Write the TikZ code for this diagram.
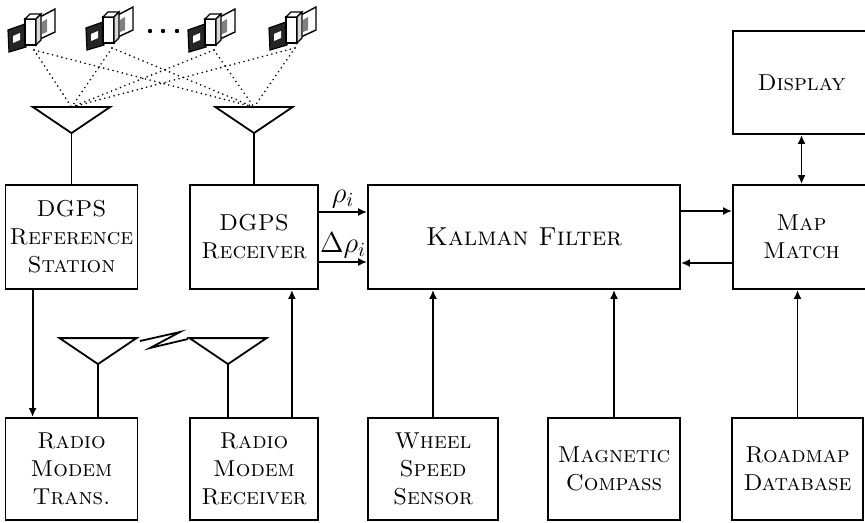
\documentclass[tikz,border=0pt]{standalone}
\usetikzlibrary{arrows.meta,positioning}

\tikzset{
  block/.style={draw, line width=0.9pt, minimum width=66pt, minimum height=52pt,
    align=center, inner sep=1pt, font=\fontsize{11.5}{14}\selectfont\scshape},
  wire/.style={line width=0.9pt},
  link/.style={wire, -{Latex[length=4.5pt,width=4pt]}},
  beam/.style={line width=0.9pt, dash pattern=on 0pt off 2.4pt, line cap=round},
  % receiving antenna, origin at the tip
  antenna/.pic={
    \draw[wire] (-38.5,-26) -- (38.5,-26) -- (0,0) -- cycle;
    \coordinate (-tip) at (0,0);
    \coordinate (-top) at (0,-26);
  },
  % satellite with two solar panels
  sat/.pic={
    \draw[line width=0.6pt, fill=black!85] (-24,1) -- (-7,-5) -- (-6,18) -- (-23,23) -- cycle;
    \fill[white] (-19,7) -- (-12,4) -- (-12,11) -- (-19,14) -- cycle;
    \draw[line width=0.7pt, fill=white] (8,-12) -- (23,-20) -- (23,3) -- (8,10) -- cycle;
    \fill[black!50] (10,-7) -- (15,-10) -- (15,3) -- (10,5) -- cycle;
    \draw[line width=0.7pt, fill=white] (-7,-10) -- (4,-10) -- (4,16) -- (-7,16) -- cycle;
    \draw[line width=0.7pt, fill=white] (-7,-10) -- (-2,-15) -- (9,-15) -- (4,-10) -- cycle;
    \draw[line width=0.7pt, fill=black!15] (4,-10) -- (9,-15) -- (9,11) -- (4,16) -- cycle;
    \coordinate (-foot) at (2,21);
  }
}

\begin{document}
\begin{tikzpicture}[x=0.5pt,y=-0.5pt]
\useasboundingbox (0,0) rectangle (865,523);

% Satellites
\pic (s1) at (32,29) {sat};
\pic (s2) at (110,27) {sat};
\pic (s3) at (212,29) {sat};
\pic (s4) at (293,27) {sat};
\foreach \x in {150,163,177}
  \fill (\x,31) circle (1.1pt);

% Blocks
\node[block] (ref) at (71.5,237) {DGPS\\Reference\\Station};
\node[block, minimum width=64pt] (rx) at (254,237) {DGPS\\Receiver};
\node[block, minimum width=156pt, font=\fontsize{13}{15}\selectfont\scshape] (kalman) at (524,237) {Kalman Filter};
\node[block, minimum width=68.5pt] (map) at (801.5,237) {Map\\Match};
\node[block, minimum width=68.5pt, minimum height=51.5pt] (display) at (801.5,82.5) {Display};

\node[block, minimum height=51pt] (trans) at (71.5,469) {Radio\\Modem\\Trans.};
\node[block, minimum width=64pt, minimum height=51pt] (rmrx) at (254,469) {Radio\\Modem\\Receiver};
\node[block, minimum width=65pt, minimum height=51pt] (wheel) at (433,469) {Wheel\\Speed\\Sensor};
\node[block, minimum width=66pt, minimum height=51pt] (compass) at (614,469) {Magnetic\\Compass};
\node[block, minimum width=65.5pt, minimum height=51pt] (roadmap) at (797.5,469) {Roadmap\\Database};

% Antennas
\pic (ant1) at ([yshift=25.5pt]ref.north) {antenna};
\pic (ant2) at ([yshift=25.5pt]rx.north) {antenna};
\pic (ant3) at ([xshift=13.25pt,yshift=26.5pt]trans.north) {antenna};
\pic (ant4) at ([xshift=-13pt,yshift=26.5pt]rmrx.north) {antenna};
\draw[wire] (ant1-tip) -- (ref.north);
\draw[wire] (ant2-tip) -- (rx.north);
\draw[wire] (ant3-tip) -- (ant3-tip |- trans.north);
\draw[wire] (ant4-tip) -- (ant4-tip |- rmrx.north);

% Satellite signals
\foreach \s in {s1,s2,s3,s4}
  \foreach \a in {ant1,ant2}
    \draw[beam] (\s-foot) -- (\a-top);

% Radio link
\draw[wire, line join=miter] (140,341) -- (180,332) -- (150,348) -- (188,339);

% Signal flow
\draw[link] ([xshift=14pt]ref.south west) -- ([xshift=14pt]trans.north west);
\draw[link] ([xshift=-13.5pt]rmrx.north east) -- ([xshift=-13.5pt]rx.south east);
\draw[link] ([yshift=12.5pt]rx.east) -- node[above, inner sep=1.5pt, font=\fontsize{14}{16}\selectfont] {$\rho_i$} ([yshift=12.5pt]kalman.west);
\draw[link] ([yshift=-12.5pt]rx.east) -- node[above, inner sep=1.5pt, font=\fontsize{14}{16}\selectfont] {$\Delta\rho_i$} ([yshift=-12.5pt]kalman.west);
\draw[link] (wheel.north) -- (wheel.north |- kalman.south);
\draw[link] (compass.north) -- (compass.north |- kalman.south);
\draw[link] ([yshift=13pt]kalman.east) -- ([yshift=13pt]map.west);
\draw[link] ([yshift=-13pt]map.west) -- ([yshift=-13pt]kalman.east);
\draw[link] (roadmap.north) -- (roadmap.north |- map.south);
\draw[link, {Latex[length=4.5pt,width=4pt]}-{Latex[length=4.5pt,width=4pt]}] (map.north) -- (display.south);

\end{tikzpicture}
\end{document}
